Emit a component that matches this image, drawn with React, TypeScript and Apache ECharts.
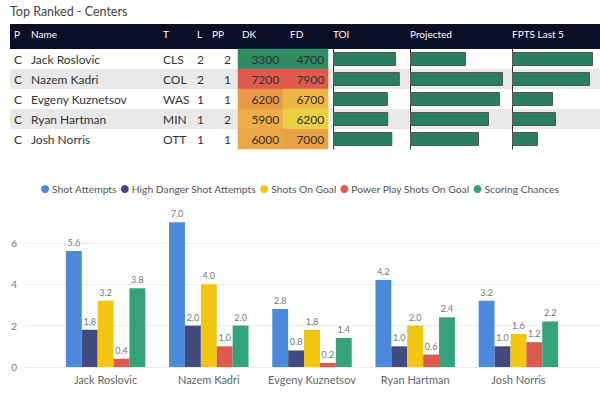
import React, { useEffect, useRef } from "react";
import * as echarts from "echarts";

// ---------- Table data ----------
const headers = ["P", "Name", "T", "L", "PP", "DK", "FD", "TOI", "Projected", "FPTS Last 5"];
const players = ["Jack Roslovic", "Nazem Kadri", "Evgeny Kuznetsov", "Ryan Hartman", "Josh Norris"];
const positions = ["C", "C", "C", "C", "C"];
const teams = ["CLS", "COL", "WAS", "MIN", "OTT"];
const lines = [2, 2, 1, 1, 1];
const ppUnits = [2, 1, 1, 2, 1];
const dkSalary = [3300, 7200, 6200, 5900, 6000];
const fdSalary = [4700, 7900, 6700, 6200, 7000];
const toi = [18.5, 19.6, 16.1, 16.2, 17.4];
const projected = [11.2, 18.6, 18.0, 15.8, 13.8];
const fptsLast5 = [16.2, 15.6, 8.2, 8.8, 5.2];

// ---------- Bar chart data ----------
const statNames = ["Shot Attempts", "High Danger Shot Attempts", "Shots On Goal", "Power Play Shots On Goal", "Scoring Chances"];
const shotAttempts = [5.6, 7.0, 2.8, 4.2, 3.2];
const highDangerShotAttempts = [1.8, 2.0, 0.8, 1.0, 1.0];
const shotsOnGoal = [3.2, 4.0, 1.8, 2.0, 1.6];
const powerPlayShotsOnGoal = [0.4, 1.0, 0.2, 0.6, 1.2];
const scoringChances = [3.8, 2.0, 1.4, 2.4, 2.2];
const statColors = ["#4a89dc", "#414b7e", "#f2c511", "#dc5a4f", "#34a37a"];

const FONT = "Lato";

export default function App() {
  const ref = useRef<HTMLDivElement>(null);
  useEffect(() => {
    if (!ref.current) return;
    const chart = echarts.init(ref.current, undefined, { renderer: "svg" });

    const rowTop = 49;
    const rowH = 20;
    const colX = { P: 14, Name: 31, T: 163, L: 197, PPRight: 231 };
    const headerX = [14, 31, 163, 197, 212, 242, 290, 333, 410, 512];

    const graphics: any[] = [];
    graphics.push({
      type: "text", left: 10, top: 5,
      style: { text: "Top Ranked - Centers", fontSize: 12.5, fill: "#444", fontFamily: FONT, fontWeight: 400 },
    });
    graphics.push({ type: "rect", shape: { x: 10, y: 24, width: 590, height: 25 }, style: { fill: "#0b0f26" } });
    headers.forEach((h, i) => {
      graphics.push({
        type: "text", x: headerX[i], y: 34,
        style: { text: h, fontSize: 10, fill: "#ffffff", fontFamily: FONT, verticalAlign: "middle" },
      });
    });
    players.forEach((p, i) => {
      const cy = rowTop + rowH * i + rowH / 2;
      if (i % 2 === 1) {
        graphics.push({ type: "rect", shape: { x: 10, y: rowTop + rowH * i, width: 590, height: rowH }, style: { fill: "#e9e9e9" } });
      }
      const ts = (t: string, x: number, align = "left") => ({
        type: "text", x, y: cy,
        style: { text: t, fontSize: 12, fill: "#333", fontFamily: FONT, verticalAlign: "middle", align },
      });
      graphics.push(ts(positions[i], colX.P));
      graphics.push(ts(p, colX.Name));
      graphics.push(ts(teams[i], colX.T));
      graphics.push(ts(String(lines[i]), colX.L));
      graphics.push(ts(String(ppUnits[i]), colX.PPRight, "right"));
    });

    const dataBarGrid = (left: number, width: number) => ({ left, width, top: rowTop, height: rowH * 5 });
    const barCols = [
      { vals: toi, max: 22, left: 333, width: 75 },
      { vals: projected, max: 20, left: 410, width: 100 },
      { vals: fptsLast5, max: 17.6, left: 512, width: 88 },
    ];

    const grids: any[] = [
      { left: 238, width: 90, top: rowTop, height: rowH * 5 },
      ...barCols.map((c) => dataBarGrid(c.left, c.width)),
      { left: 25, right: 0, top: 218, height: 149 },
      { left: 54, width: 516, top: 218, height: 149 },
    ];

    const xAxes: any[] = [
      { gridIndex: 0, type: "category", data: ["DK", "FD"], show: false },
      ...barCols.map((c, i) => ({ gridIndex: i + 1, type: "value", min: 0, max: c.max, show: false })),
      { gridIndex: 4, type: "value", min: 0, max: 1, show: false },
      {
        gridIndex: 5, type: "category", data: players,
        axisLine: { show: false }, axisTick: { show: false },
        axisLabel: { color: "#666", fontSize: 11, margin: 7, fontFamily: FONT, interval: 0 },
      },
    ];
    const yAxes: any[] = [
      { gridIndex: 0, type: "category", data: players, inverse: true, show: false },
      ...barCols.map((c, i) => ({
        gridIndex: i + 1, type: "category", data: players, inverse: true,
        axisLine: { show: true, lineStyle: { color: "#333", width: 1 } },
        axisTick: { show: false }, axisLabel: { show: false }, splitLine: { show: false },
      })),
      {
        gridIndex: 4, type: "value", min: 0, max: 7.2, interval: 2,
        axisLine: { show: false }, axisTick: { show: false },
        axisLabel: { color: "#777", fontSize: 10, margin: 8, showMaxLabel: false, fontFamily: FONT },
        splitLine: { show: true, showMaxLine: false, lineStyle: { color: "#ececec" } },
      },
      { gridIndex: 5, type: "value", min: 0, max: 7.2, show: false },
    ];

    const heatLabel = {
      show: true, position: "insideRight", distance: 4, color: "#333", fontSize: 12, fontFamily: FONT,
      formatter: (p: any) => String(p.value[2]),
    };

    const series: any[] = [
      {
        type: "heatmap", name: "DK", xAxisIndex: 0, yAxisIndex: 0,
        data: dkSalary.map((v, i) => [0, i, v]), label: heatLabel,
      },
      {
        type: "heatmap", name: "FD", xAxisIndex: 0, yAxisIndex: 0,
        data: fdSalary.map((v, i) => [1, i, v]), label: heatLabel,
      },
      ...barCols.map((c, i) => ({
        type: "bar", name: headers[7 + i], xAxisIndex: i + 1, yAxisIndex: i + 1,
        data: c.vals, barWidth: 14,
        itemStyle: { color: "#2b7e60", borderColor: "#555", borderWidth: 1 },
      })),
    ];

    const statSeries = [shotAttempts, highDangerShotAttempts, shotsOnGoal, powerPlayShotsOnGoal, scoringChances];
    statSeries.forEach((vals, i) => {
      series.push({
        type: "bar", name: statNames[i], xAxisIndex: 5, yAxisIndex: 5,
        data: vals, barGap: "0%", barCategoryGap: "23%",
        itemStyle: { color: statColors[i] },
        label: {
          show: true, position: "top", distance: 4, color: "#777", fontSize: 9, fontFamily: FONT,
          formatter: (p: any) => Number(p.value).toFixed(1),
        },
      });
    });

    const scaleColors = ["#2e8b62", "#f3d540", "#e05a4e"];

    chart.setOption({
      animation: false,
      textStyle: { fontFamily: FONT },
      graphic: graphics,
      grid: grids,
      xAxis: xAxes,
      yAxis: yAxes,
      visualMap: [
        { show: false, seriesIndex: 0, dimension: 2, min: Math.min(...dkSalary), max: Math.max(...dkSalary), inRange: { color: scaleColors } },
        { show: false, seriesIndex: 1, dimension: 2, min: Math.min(...fdSalary), max: Math.max(...fdSalary), inRange: { color: scaleColors } },
      ],
      legend: {
        data: statNames, top: 179, left: "center", icon: "circle",
        itemWidth: 8, itemHeight: 8, itemGap: 4,
        textStyle: { color: "#555", fontSize: 10.3, fontFamily: FONT, padding: [0, 0, 0, -2] },
      },
      series,
    });
    return () => chart.dispose();
  }, []);
  return <div ref={ref} style={{ position: "fixed", left: 0, top: 0, width: 600, height: 398, background: "#fff" }} />;
}
